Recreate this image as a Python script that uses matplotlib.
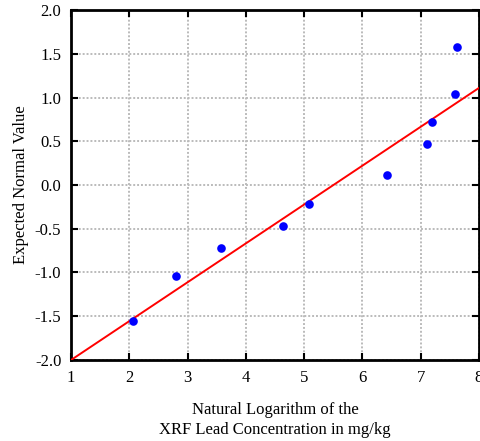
import matplotlib.pyplot as plt

plt.rcParams["font.family"] = ["Liberation Serif", "DejaVu Serif"]

# log concentration vs expected normal value
ln_conc = [2.06, 2.80, 3.57, 4.64, 5.08, 6.42, 7.11, 7.19, 7.59, 7.62]
normal_val = [-1.56, -1.04, -0.72, -0.47, -0.22, 0.11, 0.47, 0.72, 1.04, 1.58]

# fitted reference line
fit_x = [1, 8]
fit_y = [-2.0, 1.11]

x_ticks = [1, 2, 3, 4, 5, 6, 7, 8]
y_ticks = [-2.0, -1.5, -1.0, -0.5, 0.0, 0.5, 1.0, 1.5, 2.0]

fig = plt.figure(figsize=(4.8, 4.41), dpi=100)
ax = fig.add_axes([0.148, 0.1837, 0.85, 0.7936])

ax.plot(fit_x, fit_y, color="#ff0000", lw=1.4, zorder=3)
ax.plot(ln_conc, normal_val, "o", color="#0000ff", ms=6.2, mec="none", zorder=4)

ax.set_xlim(1, 8)
ax.set_ylim(-2, 2)
ax.set_xticks(x_ticks)
ax.set_yticks(y_ticks)
ax.set_xticklabels([str(t) for t in x_ticks])
ax.set_yticklabels(["%.1f" % t for t in y_ticks])
ax.grid(True, color="#bbbbbb", linestyle=(0, (1, 1)), lw=1.4)
ax.tick_params(direction="in", top=True, right=True, length=5, width=1.5,
               labelsize=12, pad=7)
for s in ax.spines.values():
    s.set_linewidth(2)

ax.set_xlabel("Natural Logarithm of the\nXRF Lead Concentration in mg/kg",
              fontsize=12, labelpad=12, linespacing=1.3)
ax.set_ylabel("Expected Normal Value", fontsize=12, labelpad=4)

fig.savefig("out.png", dpi=100)
